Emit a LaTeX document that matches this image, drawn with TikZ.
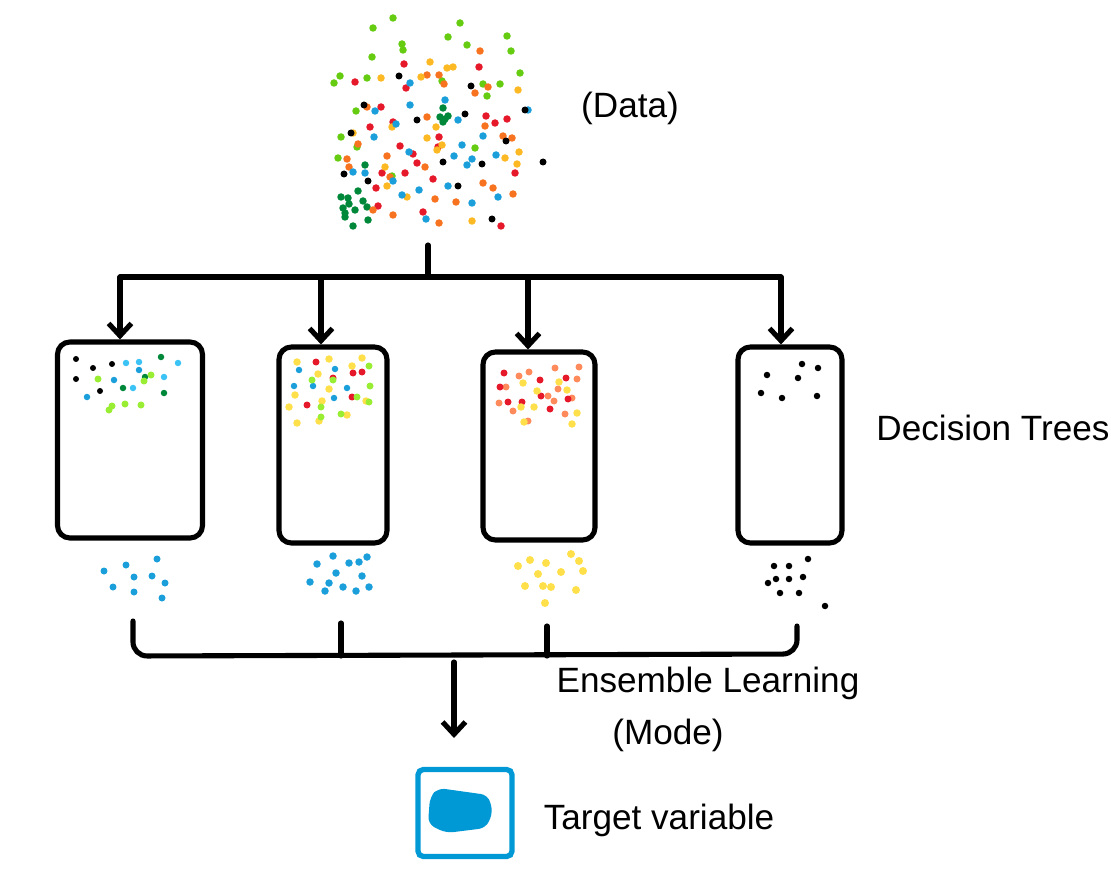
\documentclass[tikz,border=0pt]{standalone}
\usepackage{fontspec}
\setmainfont{Liberation Sans}
\usetikzlibrary{arrows.meta}

\definecolor{cLime}{HTML}{66CC11}
\definecolor{cGreen}{HTML}{00883A}
\definecolor{cRed}{HTML}{E6192B}
\definecolor{cOrange}{HTML}{F7731F}
\definecolor{cAmber}{HTML}{FDB924}
\definecolor{cBlue}{HTML}{1A9FDA}
\definecolor{cSky}{HTML}{3CC3F5}
\definecolor{cLight}{HTML}{99EE33}
\definecolor{cPale}{HTML}{FFE04A}
\definecolor{cSalmon}{HTML}{FF8A5C}
\definecolor{cTarget}{HTML}{0099D6}

\tikzset{
	pen/.style={line width=2.9pt, line cap=round, line join=round},
	tree/.style={pen, draw, rounded corners=7pt, inner sep=0pt},
	arr/.style={pen, -{Straight Barb[length=7pt,width=13pt]}},
	lbl/.style={font=\fontsize{20}{22}\selectfont},
}

\begin{document}
	\begin{tikzpicture}[x=0.02cm, y=-0.02cm]
		
		\useasboundingbox (0,0) rectangle (1111,888);
		
		% the data
		\foreach \p in {(393,18),(373,28),(460,23),(448,37),(507,36),(402,44),(403,50),(467,45),(511,51),(372,57),(520,73),(340,76),(334,83),(367,78),(442,81),(483,84),(500,84),(487,96),(356,111),(341,137),(357,147),(475,148),(338,158),(392,176)}
			\fill[cLime] \p circle[radius=0.075cm];
		\foreach \p in {(443,108),(440,117),(445,119),(448,116),(443,122),(365,165),(358,191),(341,197),(348,198),(349,204),(363,201),(343,208),(345,213),(355,210),(367,207),(368,220),(345,217),(353,226)}
			\fill[cGreen] \p circle[radius=0.075cm];
		\foreach \p in {(404,64),(355,82),(406,88),(479,67),(381,107),(393,122),(370,127),(486,116),(495,123),(507,119),(439,137),(400,146),(438,147),(413,154),(417,163),(382,173),(405,173),(515,173),(433,179),(376,188),(378,206),(423,212),(501,226)}
			\fill[cRed] \p circle[radius=0.075cm];
		\foreach \p in {(480,51),(427,75),(439,75),(444,84),(475,93),(488,87),(367,107),(427,117),(485,126),(503,136),(512,138),(358,144),(387,156),(347,159),(349,167),(425,167),(390,177),(483,183),(493,188),(513,194),(435,199),(456,202),(373,210),(393,215),(439,223)}
			\fill[cOrange] \p circle[radius=0.075cm];
		\foreach \p in {(430,62),(447,68),(453,67),(381,78),(421,77),(518,90),(436,127),(392,127),(353,133),(427,138),(442,145),(437,150),(519,152),(505,158),(517,164),(385,167),(387,186),(407,197),(472,221)}
			\fill[cAmber] \p circle[radius=0.075cm];
		\foreach \p in {(410,83),(445,100),(410,105),(375,111),(458,120),(396,124),(528,110),(374,137),(483,136),(462,145),(409,152),(454,156),(472,159),(467,165),(496,155),(353,172),(365,173),(393,181),(419,190),(448,186),(402,195),(498,197),(472,203),(426,219)}
			\fill[cBlue] \p circle[radius=0.075cm];
		\foreach \p in {(399,76),(471,86),(364,105),(417,120),(465,114),(525,110),(351,133),(506,141),(443,162),(482,164),(344,174),(368,181),(458,186),(543,162),(492,219)}
			\fill[black] \p circle[radius=0.07cm];
		
		\node[lbl] (datalbl) at (630,108) {(Data)};
		
		% decision trees
		\node[tree, minimum width=2.9cm, minimum height=3.92cm] (dtA) at (130,440) {};
		\node[tree, minimum width=2.16cm, minimum height=3.92cm] (dtB) at (333,445) {};
		\node[tree, minimum width=2.24cm, minimum height=3.76cm] (dtC) at (539,446) {};
		\node[tree, minimum width=2.08cm, minimum height=3.92cm] (dtD) at (790,445) {};
		
		\node[lbl] (treelbl) at (993,428) {Decision Trees};
		
		% split
		\coordinate (stem) at (428,245);
		\coordinate (split) at (428,277);
		\coordinate (jA) at (120,277);
		\coordinate (jB) at (321,277);
		\coordinate (jC) at (528,277);
		\coordinate (jD) at (781,277);
		
		\draw[pen] (stem) -- (split);
		\draw[pen] (jA) -- (jD);
		\draw[arr] (jA) -- (jA |- dtA.north);
		\draw[arr] (jB) -- (jB |- dtB.north);
		\draw[arr] (jC) -- (jC |- dtC.north);
		\draw[arr] (jD) -- (jD |- dtD.north);
		
		% in the trees
		\foreach \p in {(76,359),(93,368),(112,364),(76,379),(100,391)}
			\fill[black] \p circle[radius=0.06cm];
		\foreach \p in {(126,363),(139,362),(178,363),(164,377),(133,388)}
			\fill[cSky] \p circle[radius=0.065cm];
		\foreach \p in {(139,370),(114,380),(87,397)}
			\fill[cBlue] \p circle[radius=0.065cm];
		\foreach \p in {(161,357),(145,377),(123,388),(164,393)}
			\fill[cGreen] \p circle[radius=0.065cm];
		\foreach \p in {(98,379),(151,375),(144,381),(112,406),(109,410),(125,404),(141,405)}
			\fill[cLight] \p circle[radius=0.07cm];
		
		\foreach \p in {(297,362),(329,359),(362,358),(352,366),(318,374),(329,389),(295,395),(289,407),(322,401),(366,401),(347,415),(319,421),(297,423)}
			\fill[cPale] \p circle[radius=0.075cm];
		\foreach \p in {(316,362),(353,373),(362,372),(333,378),(307,405),(352,397)}
			\fill[cRed] \p circle[radius=0.07cm];
		\foreach \p in {(299,370),(335,369),(294,386),(313,386),(347,388),(334,398)}
			\fill[cBlue] \p circle[radius=0.065cm];
		\foreach \p in {(369,366),(312,380),(333,380),(370,386),(357,397),(369,402),(321,407),(321,417),(341,414)}
			\fill[cLight] \p circle[radius=0.07cm];
		
		\foreach \p in {(519,376),(529,372),(555,368),(579,367),(577,379),(506,387),(558,389),(548,396),(554,401),(499,403),(513,411),(572,398),(565,414),(528,421)}
			\fill[cSalmon] \p circle[radius=0.07cm];
		\foreach \p in {(504,373),(540,380),(566,378),(500,387),(508,402),(522,402),(541,396),(550,409),(568,399)}
			\fill[cRed] \p circle[radius=0.07cm];
		\foreach \p in {(523,383),(559,382),(537,391),(567,390),(521,407),(534,407),(577,413),(524,422),(572,424)}
			\fill[cPale] \p circle[radius=0.075cm];
		
		\foreach \p in {(767,375),(802,364),(818,368),(798,378),(761,393),(782,398),(817,396)}
			\fill[black] \p circle[radius=0.065cm];
		
		% votes
		\foreach \p in {(104,571),(126,565),(157,559),(134,577),(152,576),(165,583),(113,587),(134,592),(162,598)}
			\fill[cBlue] \p circle[radius=0.07cm];
		\foreach \p in {(333,556),(317,564),(349,563),(359,562),(367,557),(336,573),(362,576),(310,582),(329,583),(343,587),(356,591),(369,587),(325,591)}
			\fill[cBlue] \p circle[radius=0.075cm];
		\foreach \p in {(518,566),(530,560),(546,563),(571,554),(579,561),(583,571),(538,574),(561,572),(525,586),(543,586),(551,587),(576,590),(545,603)}
			\fill[cPale] \p circle[radius=0.08cm];
		\foreach \p in {(774,566),(789,566),(808,559),(776,579),(789,579),(803,577),(768,583),(780,593),(799,593),(825,606)}
			\fill[black] \p circle[radius=0.065cm];
		
		% ensemble
		\coordinate (tA) at (133,621);
		\coordinate (tB) at (341,623);
		\coordinate (tC) at (547,626);
		\coordinate (tD) at (797,626);
		\coordinate (bA) at (133,656);
		\coordinate (bD) at (797,654);
		\coordinate (vote) at (454,662);
		\coordinate (tip) at (454,738);
		
		\draw[pen, rounded corners=8pt] (tA) -- (bA) -- (bD) -- (tD);
		\draw[pen] (tB) -- (tB |- bA);
		\draw[pen] (tC) -- (tC |- bA);
		\draw[arr] (vote) -- (tip);
		
		\node[lbl] (enslbl) at (708,683) {Ensemble Learning};
		\node[lbl] (modelbl) at (668,735) {(Mode)};
		
		% target
		\node[draw=cTarget, line width=3pt, rounded corners=3pt, minimum width=1.88cm, minimum height=1.74cm] (target) at (465,813) {};
		\fill[cTarget, rounded corners=4pt] (430,797) -- (438,788) -- (488,795) -- (493,812) -- (486,828) -- (446,833) -- (428,824) -- cycle;
		
		\node[lbl] (targetlbl) at (659,820) {Target variable};
		
	\end{tikzpicture}
\end{document}
